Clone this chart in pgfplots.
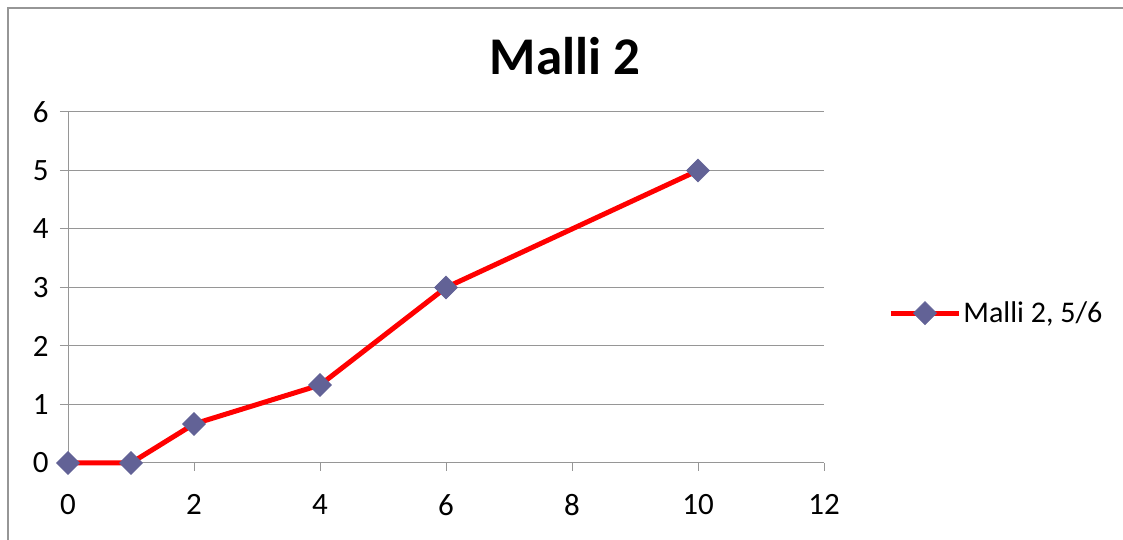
\documentclass[border=0pt]{standalone}
\usepackage{fontspec}
\setmainfont{Carlito}
\usepackage{pgfplots}
\pgfplotsset{compat=1.18}
\definecolor{mk}{RGB}{98,98,150}
\definecolor{gl}{RGB}{150,150,150}
\begin{document}
\begin{tikzpicture}[x=1pt,y=1pt]
\useasboundingbox (0,0) rectangle (1123,540);
\draw[gl, line width=2pt] (7.5,0) -- (7.5,532) -- (1123,532);
\node[font=\fontsize{53}{53}\selectfont\bfseries] at (565,484) {Malli 2};
\begin{axis}[
  at={(68pt,77pt)}, anchor=south west, scale only axis,
  width=756pt, height=351pt,
  xmin=0, xmax=12, ymin=0, ymax=6,
  xtick={0,2,...,12}, ytick={0,1,...,6},
  axis x line=bottom, axis y line=left,
  axis line style={-, gl, line width=1pt},
  ymajorgrids, grid style={gl, line width=1pt},
  tick style={gl, line width=1pt}, tick align=outside, major tick length=8pt,
  tick label style={font=\fontsize{31}{31}\selectfont},
  /pgf/number format/assume math mode=true,
  xticklabel style={yshift=-20pt},
  yticklabel style={xshift=-8pt},
  clip=false,
  legend style={at={(1.085,0.427)}, anchor=west, draw=none, fill=none,
    font=\fontsize{30}{30}\selectfont, inner sep=0pt},
  legend cell align=left,
  legend image code/.code={\draw[#1, mark repeat=2, mark phase=2] plot coordinates {(0pt,0pt) (34pt,0pt) (68pt,0pt)};},
]
\addplot[red, line width=5pt, mark=square*, mark size=8.2pt,
  mark options={fill=mk, draw=mk, line width=0.5pt, rotate=45}]
  coordinates {(0,0) (1,0) (2,0.667) (4,1.333) (6,3) (10,5)};
\addlegendentry{Malli 2, 5/6}
\end{axis}
\end{tikzpicture}
\end{document}
